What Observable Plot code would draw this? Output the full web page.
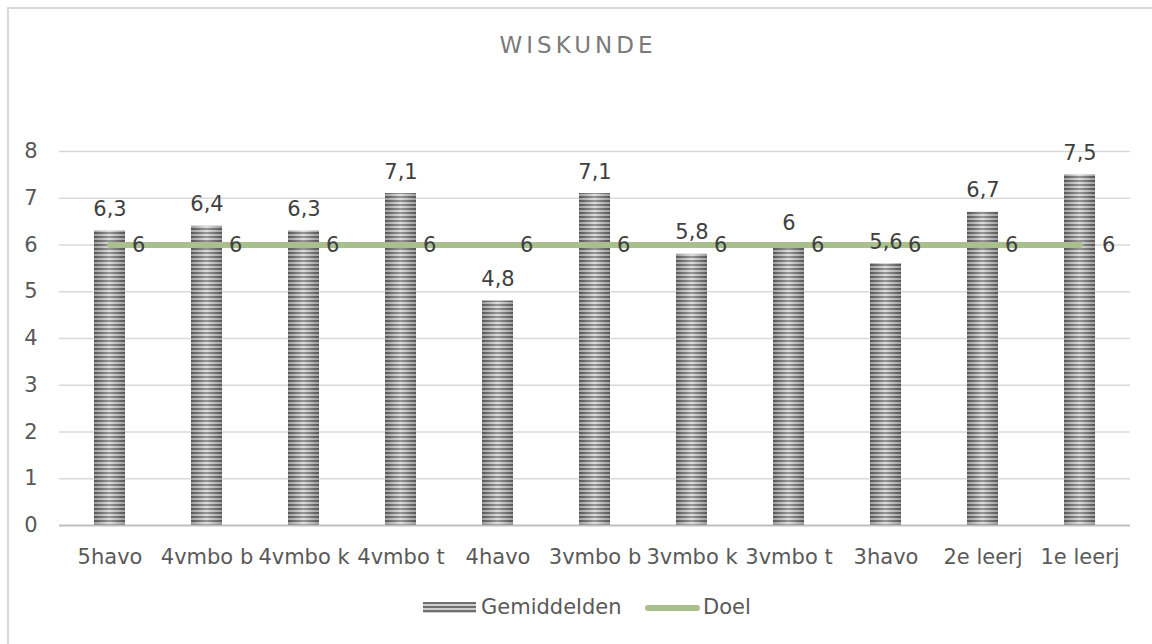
<!DOCTYPE html>
<html><head><meta charset="utf-8">
<script src="https://cdn.jsdelivr.net/npm/d3@7"></script>
<script src="https://cdn.jsdelivr.net/npm/@observablehq/plot@0.6"></script>
<style>
body{margin:0;background:#fff;}
#wrap{position:relative;width:1152px;height:644px;overflow:hidden;font-family:"DejaVu Sans",sans-serif;color:#595959;background:#fff;}
#frame{position:absolute;left:7px;top:7px;width:1300px;height:800px;border-left:2px solid #d9d9d9;border-top:2px solid #d9d9d9;}
#title{position:absolute;left:0;width:1152px;top:32px;text-align:center;font-size:23px;letter-spacing:4px;padding-left:4px;box-sizing:border-box;color:#7a7a7a;line-height:26px;}
#chart{position:absolute;left:0;top:100px;}
.leg{position:absolute;font-size:21px;line-height:24px;top:595px;color:#595959;}
#sw1{position:absolute;left:423px;top:602px;width:53px;height:11px;background:repeating-linear-gradient(to bottom,#6f6f6f 0 2px,#cfcfcf 2px 4px);}
#sw2{position:absolute;left:645px;top:605px;width:55px;height:6px;border-radius:3px;background:#a9bf8e;}
</style></head>
<body>
<div id="wrap">
  <div id="frame"></div>
  <div id="title">WISKUNDE</div>
  <div id="chart"></div>
  <div id="sw1"></div><div class="leg" style="left:481px">Gemiddelden</div>
  <div id="sw2"></div><div class="leg" style="left:703px">Doel</div>
</div>
<script>
const categories = ["5havo","4vmbo b","4vmbo k","4vmbo t","4havo","3vmbo b","3vmbo k","3vmbo t","3havo","2e leerj","1e leerj"];
const gemiddelden = [6.3,6.4,6.3,7.1,4.8,7.1,5.8,6,5.6,6.7,7.5];
const doel = [6,6,6,6,6,6,6,6,6,6,6];
const yTicks = [0,1,2,3,4,5,6,7,8];

const data = categories.map((c,i)=>({cat:c, val:gemiddelden[i], doel:doel[i]}));
const fmt = v => String(v).replace(".", ",");

const chart = Plot.plot({
  width:1152, height:480,
  marginLeft:59, marginRight:22, marginTop:51, marginBottom:55,
  style:{fontFamily:"DejaVu Sans, sans-serif", fontSize:"21px", color:"#595959", background:"transparent"},
  x:{domain:categories, type:"band", paddingInner:0.68, paddingOuter:0.34, label:null, tickSize:0, tickPadding:24},
  y:{domain:[0,8], ticks:yTicks, label:null, tickSize:0, tickPadding:22},
  marks:[
    Plot.ruleY(yTicks.filter(d=>d>0), {stroke:"#d9d9d9", strokeWidth:1.5}),
    Plot.barY(data, {x:"cat", y:"val", fill:"url(#stripes)"}),
    Plot.barY(data, {x:"cat", y:"val", fill:"url(#shade)"}),
    Plot.ruleY([0], {stroke:"#bfbfbf", strokeWidth:2}),
    Plot.line(data, {x:"cat", y:"doel", stroke:"#a9bf8e", strokeWidth:6, strokeLinecap:"round"}),
    Plot.text(data, {x:"cat", y:"doel", text:d=>fmt(d.doel), textAnchor:"start", dx:22, fill:"#404040"}),
    Plot.text(data, {x:"cat", y:"val", text:d=>fmt(d.val), lineAnchor:"bottom", dy:-15, fill:"#404040"})
  ]
});
const svg = d3.select(chart);
const defs = svg.insert("defs", ":first-child");
const pat = defs.append("pattern").attr("id","stripes").attr("patternUnits","userSpaceOnUse").attr("width",8).attr("height",4);
pat.append("rect").attr("width",8).attr("height",4).attr("fill","#d2d2d2");
pat.append("rect").attr("width",8).attr("height",2).attr("fill","#727272");
const g = defs.append("linearGradient").attr("id","shade").attr("x1",0).attr("x2",1).attr("y1",0).attr("y2",0);
g.append("stop").attr("offset","0").attr("stop-color","#000").attr("stop-opacity",0.25);
g.append("stop").attr("offset","0.5").attr("stop-color","#fff").attr("stop-opacity",0.25);
g.append("stop").attr("offset","1").attr("stop-color","#000").attr("stop-opacity",0.25);
document.getElementById("chart").appendChild(chart);
</script>
</body></html>
